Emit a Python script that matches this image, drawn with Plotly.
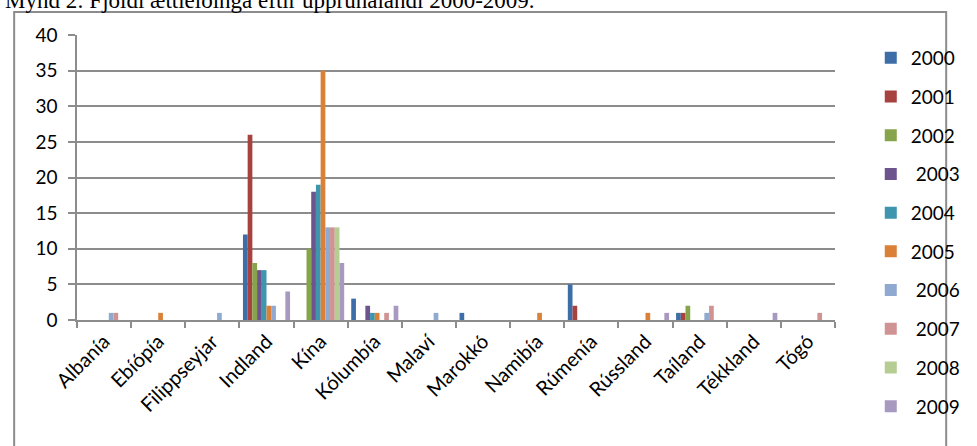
import plotly.graph_objects as go

countries = ["Albanía", "Ebíópía", "Filippseyjar", "Indland", "Kína", "Kólumbía",
             "Malaví", "Marokkó", "Namibía", "Rúmenía", "Rússland", "Taíland",
             "Tékkland", "Tógó"]

years = ["2000", "2001", "2002", "\u00a02003", "2004", "2005",
         "\u00a02006", "\u00a02007", "\u00a02008", "\u00a02009"]

#            Alb Ebi Fil Ind Kína Kól Mal Mar Nam Rúm Rús Taí Tékk Tógó
v2000 = [0, 0, 0, 12, 0, 3, 0, 1, 0, 5, 0, 1, 0, 0]
v2001 = [0, 0, 0, 26, 0, 0, 0, 0, 0, 2, 0, 1, 0, 0]
v2002 = [0, 0, 0, 8, 10, 0, 0, 0, 0, 0, 0, 2, 0, 0]
v2003 = [0, 0, 0, 7, 18, 2, 0, 0, 0, 0, 0, 0, 0, 0]
v2004 = [0, 0, 0, 7, 19, 1, 0, 0, 0, 0, 0, 0, 0, 0]
v2005 = [0, 1, 0, 2, 35, 1, 0, 0, 1, 0, 1, 0, 0, 0]
v2006 = [1, 0, 1, 2, 13, 0, 1, 0, 0, 0, 0, 1, 0, 0]
v2007 = [1, 0, 0, 0, 13, 1, 0, 0, 0, 0, 0, 2, 0, 1]
v2008 = [0, 0, 0, 0, 13, 0, 0, 0, 0, 0, 0, 0, 0, 0]
v2009 = [0, 0, 0, 4, 8, 2, 0, 0, 0, 0, 1, 0, 1, 0]

series = [v2000, v2001, v2002, v2003, v2004, v2005, v2006, v2007, v2008, v2009]
colors = ["#3d6ea7", "#a8423f", "#86a44a", "#6e548d", "#3d96ae", "#da8137",
          "#8fa9d0", "#d09393", "#b5cc93", "#a899c1"]

title_text = "Mynd 2: Fjöldi ættleiðinga eftir upprunalandi 2000-2009."

W, H = 977, 446
ML, MR, MT, MB = 77, 116, 35, 126
PW = W - ML - MR
PH = H - MT - MB


def px_x(px):
    return (px - ML) / PW


def px_y(py):
    return (H - MB - py) / PH


fig = go.Figure()
for name, vals, col in zip(years, series, colors):
    fig.add_trace(go.Bar(x=countries, y=vals, name=name, marker_color=col,
                         marker_line_width=0, legendgroup=name))

axis_col = "#8c8c8c"
font_fam = "Lato, 'Open Sans', sans-serif"

fig.update_layout(
    width=W, height=H, autosize=False,
    margin=dict(l=ML, r=MR, t=MT, b=MB, pad=0),
    paper_bgcolor="white", plot_bgcolor="white",
    barmode="group", bargap=0.13, bargroupgap=0,
    font=dict(family=font_fam, size=19, color="black"),
    showlegend=True,
    legend=dict(x=px_x(898), y=px_y(39), xanchor="left", yanchor="top",
                font=dict(family=font_fam, size=19, color="black"),
                tracegroupgap=11, itemwidth=30, bgcolor="rgba(0,0,0,0)",
                maxheight=430),
    xaxis=dict(type="category", showline=True, linecolor=axis_col, linewidth=2,
               ticks="outside", tickson="boundaries", ticklen=6, tickcolor=axis_col,
               tickwidth=1.5, tickangle=-45, showgrid=False,
               tickfont=dict(family=font_fam, size=20)),
    yaxis=dict(range=[0, 40], dtick=5, showline=True, linecolor=axis_col, linewidth=1.5,
               ticks="outside", ticklen=7, tickcolor=axis_col, tickwidth=1.5,
               showgrid=True, gridcolor=axis_col, gridwidth=1.5, zeroline=False,
               ticklabelstandoff=7, tickfont=dict(family=font_fam, size=19)),
    shapes=[dict(type="rect", xref="paper", yref="paper",
                 x0=px_x(12), x1=px_x(976), y0=px_y(470), y1=px_y(12),
                 line=dict(color=axis_col, width=2), fillcolor="rgba(0,0,0,0)",
                 layer="below")],
    annotations=[dict(text=title_text, xref="paper", yref="paper",
                      x=px_x(0), y=px_y(15), xanchor="left", yanchor="bottom",
                      showarrow=False,
                      font=dict(family="'Liberation Serif', 'DejaVu Serif', serif",
                                size=23, color="black"))],
)

fig.write_html("out.html")
